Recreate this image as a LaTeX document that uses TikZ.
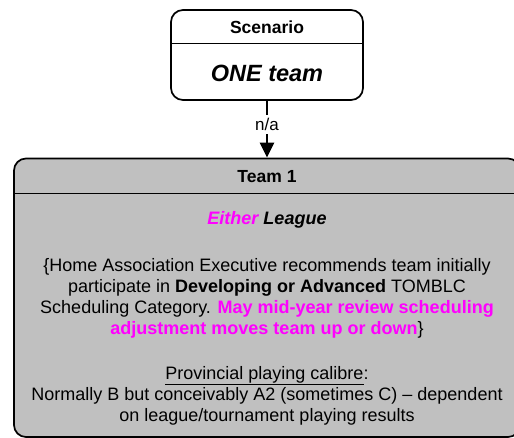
\documentclass[tikz,border=0pt]{standalone}
\usepackage{fontspec}
\setmainfont{Liberation Sans}
\usetikzlibrary{arrows.meta}
\definecolor{mag}{RGB}{255,0,255}
\definecolor{boxgray}{RGB}{192,192,192}
\tikzset{
  outerbox/.style={draw=black, line width=1.7pt, inner sep=0pt},
  divline/.style={draw=black, line width=1.7pt},
  titletext/.style={font=\bfseries\fontsize{17.5}{20}\selectfont, inner sep=0pt},
  bodytext/.style={font=\fontsize{18}{21}\selectfont, align=center, inner sep=0pt},
  conn/.style={draw=black, line width=2.6pt, -{Triangle[width=14pt,length=15pt]}},
  connlabel/.style={font=\fontsize{17}{20}\selectfont, fill=white, inner sep=3pt}
}
\begin{document}
\begin{tikzpicture}[x=1pt,y=-1pt]
\useasboundingbox (0,0) rectangle (514,438);
% top box
\node[outerbox, fill=white, rounded corners=12pt, minimum width=192pt, minimum height=90pt] (scen) at (267,55) {};
\node[titletext] (scentitle) at (267,27) {Scenario};
\coordinate (sdl) at (171,43.5);
\coordinate (sdr) at (363,43.5);
\draw[divline] (sdl) -- (sdr);
\node[font=\bfseries\itshape\fontsize{23.5}{26}\selectfont, inner sep=0pt] (one) at (267,73) {ONE team};
% team box
\node[outerbox, fill=boxgray, rounded corners=12pt, minimum width=506pt, minimum height=278.5pt] (team) at (267,297.75) {};
\node[titletext] (teamtitle) at (267,176.5) {Team 1};
\coordinate (tdl) at (14,193.5);
\coordinate (tdr) at (520,193.5);
\draw[divline] (tdl) -- (tdr);
\node[bodytext, font=\bfseries\itshape\fontsize{18}{21}\selectfont] (either) at (267,220) {\textcolor{mag}{Either} League};
\node[bodytext, anchor=north] (para) at (267,258) {\{Home Association Executive recommends team initially\\
participate in \textbf{Developing or Advanced} TOMBLC\\
Scheduling Category. \textcolor{mag}{\textbf{May mid-year review scheduling}}\\
\textcolor{mag}{\textbf{adjustment moves team up or down}}\}};
\node[bodytext, anchor=north] (prov) at (267,366) {\underline{Provincial playing calibre}:\\
Normally B but conceivably A2 (sometimes C) -- dependent\\
on league/tournament playing results};
% connector
\coordinate (arrowend) at (scen.south |- team.north);
\draw[conn] (scen.south) -- node[connlabel, pos=0.42] (na) {n/a} (arrowend);
\end{tikzpicture}
\end{document}
